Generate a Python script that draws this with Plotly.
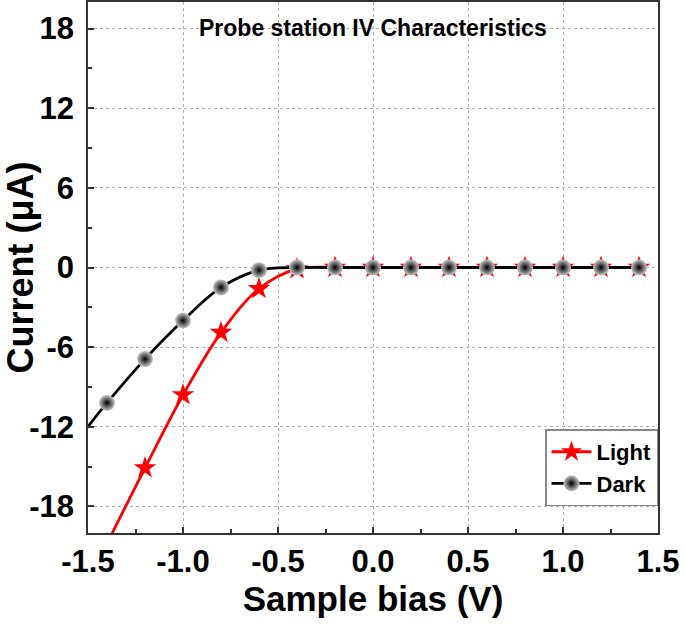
import plotly.graph_objects as go

# bias points (V); the -1.6 point sits just past the axis edge so the curves run to the frame
bias = [-1.6, -1.4, -1.2, -1.0, -0.8, -0.6, -0.4, -0.2, 0.0, 0.2, 0.4, 0.6, 0.8, 1.0, 1.2, 1.4]
light_ua = [-26.5, -20.8, -15.1, -9.6, -4.9, -1.6, -0.1, 0.0, 0.0, 0.0, 0.0, 0.0, 0.0, 0.0, 0.0, 0.0]
dark_ua = [-13.8, -10.2, -6.9, -4.0, -1.5, -0.2, 0.0, 0.0, 0.0, 0.0, 0.0, 0.0, 0.0, 0.0, 0.0, 0.0]

x_ticks = [-1.5, -1.0, -0.5, 0.0, 0.5, 1.0, 1.5]
x_labels = ["-1.5", "-1.0", "-0.5", "0.0", "0.5", "1.0", "1.5"]
y_ticks = [-18, -12, -6, 0, 6, 12, 18]
y_labels = ["-18", "-12", "-6", "0", "6", "12", "18"]

FONT = "Liberation Sans, Arial, sans-serif"

fig = go.Figure()
fig.add_trace(go.Scatter(
    x=bias, y=light_ua, name="Light", mode="lines+markers",
    line=dict(color="#ff0000", width=2.8, shape="spline"),
    marker=dict(symbol="star", size=17, color="#ff0000"),
))
fig.add_trace(go.Scatter(
    x=bias, y=dark_ua, name="Dark", mode="lines+markers",
    line=dict(color="#000000", width=2.8, shape="spline"),
    marker=dict(symbol="circle", size=16, color="#c8c8c8",
                gradient=dict(type="radial", color="#000000"),
                line=dict(width=0)),
))

fig.add_annotation(
    x=0.0, y=19.2, xref="x", yref="y", text="Probe station IV Characteristics",
    showarrow=False, yanchor="top",
    font=dict(family=FONT, size=23, color="#000000", weight="bold"),
)

axis_common = dict(
    showline=True, mirror=True, linecolor="#333333", linewidth=1.5,
    ticks="inside", ticklen=6, tickwidth=1.5, tickcolor="#333333",
    showgrid=True, gridcolor="#b0b0b0", griddash="3px,3px", gridwidth=1,
    zeroline=False, automargin=False,
    tickfont=dict(family=FONT, size=31, color="#000000", weight="bold"),
)

fig.update_layout(
    width=685, height=624,
    paper_bgcolor="white", plot_bgcolor="white",
    margin=dict(l=88, r=27, t=2, b=91),
    showlegend=True,
    legend=dict(
        x=1.0, y=0.05, xanchor="right", yanchor="bottom",
        bordercolor="#888888", borderwidth=1.5, bgcolor="white",
        font=dict(family=FONT, size=22, color="#000000", weight="bold"),
        itemwidth=40, tracegroupgap=0,
    ),
    xaxis=dict(
        **axis_common,
        range=[-1.5, 1.5], tickvals=x_ticks, ticktext=x_labels,
        minor=dict(ticks="inside", ticklen=4, dtick=0.25, tick0=0, showgrid=False, tickcolor="#333333"),
        ticklabelstandoff=0,
        title=dict(text="Sample bias (V)", standoff=8,
                   font=dict(family=FONT, size=35, color="#000000", weight="bold")),
    ),
    yaxis=dict(
        **axis_common,
        range=[-20, 20], tickvals=y_ticks, ticktext=y_labels,
        minor=dict(ticks="inside", ticklen=4, dtick=3, tick0=0, showgrid=False, tickcolor="#333333"),
        ticklabelstandoff=6,
        title=dict(text="Current (μA)", standoff=3,
                   font=dict(family=FONT, size=36, color="#000000", weight="bold")),
    ),
)

# drop the default 8px page margin so the figure sits at the window's corner
fig.write_html("out.html", config={"displayModeBar": False},
               post_script="document.body.style.margin='0';")
